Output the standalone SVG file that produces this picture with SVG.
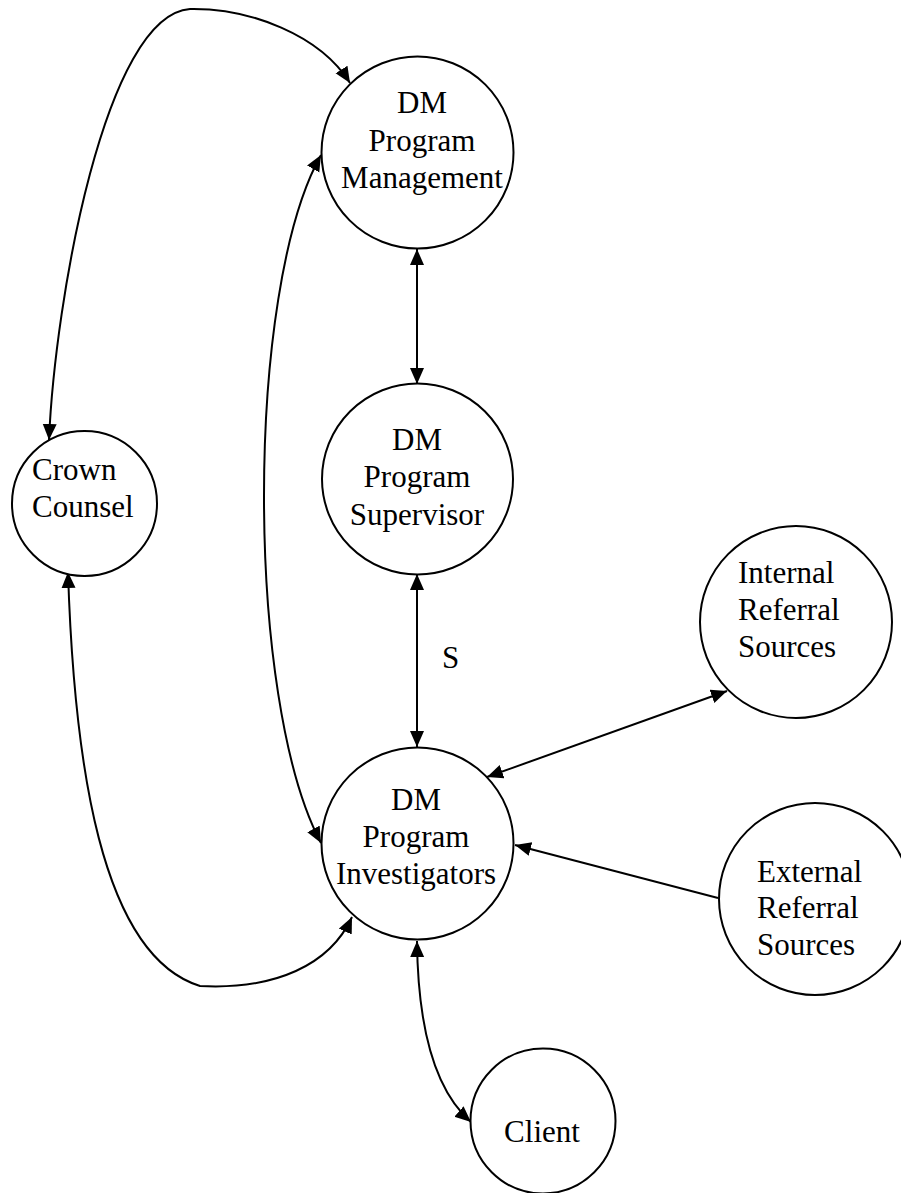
<svg xmlns="http://www.w3.org/2000/svg" width="901" height="1193" viewBox="0 0 901 1193">
<style>
.node{fill:#fff;stroke:#000;stroke-width:2}
.lbl{font-family:"Liberation Serif","Times New Roman",serif;font-size:31px;fill:#000}
.c{text-anchor:middle}
.edge{fill:none;stroke:#000;stroke-width:2}
.both{marker-start:url(#ah);marker-end:url(#ah)}
.one{marker-end:url(#ah)}
</style>
<defs>
<marker id="ah" markerUnits="userSpaceOnUse" markerWidth="18" markerHeight="16" refX="16" refY="7" orient="auto-start-reverse">
<path d="M0,0 L16,7 L0,14 z" fill="#000"/>
</marker>
</defs>
<rect width="901" height="1193" fill="#fff"/>
<g id="connectors">
<path class="edge both" d="M49,440 C55,300 105,15 190,9 C250,8 320,35 350,83"/>
<path class="edge both" d="M321,155 C245,290 245,700 321,843"/>
<path class="edge both" d="M417,249 L417,384"/>
<path class="edge both" d="M417,574 L417,747"/>
<path class="edge both" d="M487,777 L727,691"/>
<path class="edge one" d="M718,898 L515,845"/>
<path class="edge both" d="M68,572 C74,760 100,955 200,986 C275,990 330,965 352,917"/>
<path class="edge both" d="M417,941 C418,1040 440,1095 471,1122"/>
<text class="lbl" x="442" y="668">S</text>
</g>
<g id="management">
<circle class="node" cx="417.5" cy="152.5" r="96"/>
<text class="lbl c" x="422" y="113">DM</text>
<text class="lbl c" x="422" y="150.5">Program</text>
<text class="lbl c" x="422" y="188">Management</text>
</g>
<g id="supervisor">
<circle class="node" cx="417.5" cy="479" r="95.5"/>
<text class="lbl c" x="417" y="450">DM</text>
<text class="lbl c" x="417" y="487">Program</text>
<text class="lbl c" x="417" y="525">Supervisor</text>
</g>
<g id="investigators">
<circle class="node" cx="417.5" cy="843.5" r="96"/>
<text class="lbl c" x="416" y="810">DM</text>
<text class="lbl c" x="416" y="847">Program</text>
<text class="lbl c" x="416" y="884">Investigators</text>
</g>
<g id="crown">
<circle class="node" cx="84.5" cy="503.5" r="72.5"/>
<text class="lbl" x="32" y="480">Crown</text>
<text class="lbl" x="32" y="517">Counsel</text>
</g>
<g id="internal">
<circle class="node" cx="796" cy="622" r="96"/>
<text class="lbl" x="738" y="583">Internal</text>
<text class="lbl" x="738" y="620">Referral</text>
<text class="lbl" x="738" y="657">Sources</text>
</g>
<g id="external">
<circle class="node" cx="815" cy="899" r="96"/>
<text class="lbl" x="757" y="882">External</text>
<text class="lbl" x="757" y="918">Referral</text>
<text class="lbl" x="757" y="955">Sources</text>
</g>
<g id="client">
<circle class="node" cx="543" cy="1121" r="72.5"/>
<text class="lbl c" x="542" y="1142">Client</text>
</g>
</svg>
